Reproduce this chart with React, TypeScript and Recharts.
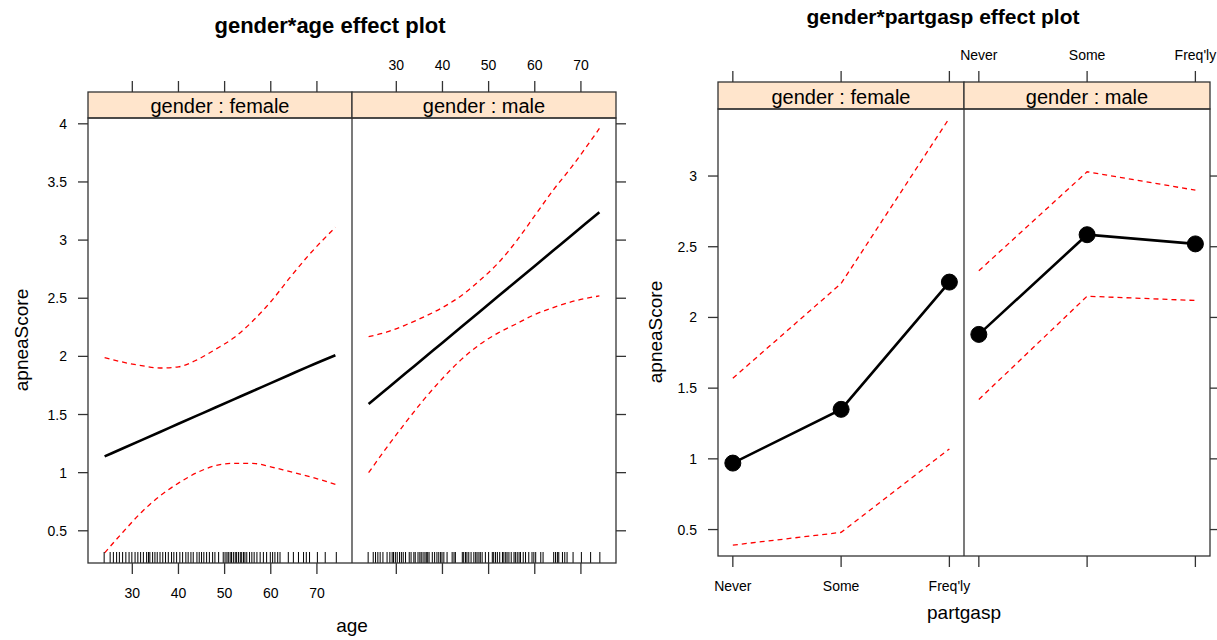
import React from "react";
import { ComposedChart, Line, Scatter, XAxis, YAxis } from "recharts";

// gender*age effect: fitted values and confidence band at these ages
const ageGrid = [24, 28, 32, 36, 40, 44, 48, 52, 56, 60, 64, 68, 74];
const femaleAgeFit = [1.14, 1.21, 1.28, 1.35, 1.42, 1.49, 1.56, 1.63, 1.70, 1.77, 1.84, 1.91, 2.01];
const femaleAgeLower = [0.31, 0.49, 0.66, 0.80, 0.91, 1.00, 1.06, 1.08, 1.08, 1.05, 1.01, 0.97, 0.90];
const femaleAgeUpper = [1.99, 1.95, 1.92, 1.90, 1.91, 1.97, 2.06, 2.16, 2.30, 2.47, 2.67, 2.86, 3.11];
const maleAgeFit = [1.59, 1.722, 1.854, 1.986, 2.118, 2.25, 2.382, 2.514, 2.646, 2.778, 2.91, 3.042, 3.24];
const maleAgeLower = [1.00, 1.22, 1.43, 1.63, 1.81, 1.97, 2.10, 2.20, 2.28, 2.36, 2.42, 2.47, 2.52];
const maleAgeUpper = [2.17, 2.21, 2.27, 2.34, 2.42, 2.52, 2.65, 2.80, 2.99, 3.21, 3.43, 3.63, 3.96];

// rug of observed ages
const femaleRug = [23.9, 25.2, 25.9, 26.6, 27.2, 27.9, 28.6, 29.3, 29.9, 30.6, 31.2, 31.8, 32.4, 33.1, 33.5,
  33.8, 34.4, 34.9, 35.4, 36, 36.6, 37.2, 37.8, 38.5, 39, 39.6, 40.3, 40.9, 41.6, 42.1, 42.7, 43.2, 44, 44.5,
  45, 45.5, 46.1, 46.7, 47.4, 47.9, 48.7, 49.7, 50.1, 50.5, 50.8, 51.2, 51.5, 51.9, 52.3, 52.6, 53, 53.4,
  53.7, 54.1, 54.4, 54.8, 55.4, 55.9, 56.4, 57, 57.7, 58.4, 59.1, 59.9, 60.4, 60.9, 61.5, 62, 63.8, 64.9,
  66, 67.1, 67.7, 68.4, 70.1, 71.8, 74.2];
const maleRug = [23.9, 25, 25.5, 26, 26.5, 27.1, 28, 28.6, 29.1, 29.4, 29.8, 30.2, 30.7, 31.1, 31.5, 32,
  32.8, 33.2, 33.8, 34.1, 34.7, 35.1, 35.4, 35.8, 36.2, 36.5, 36.8, 37.1, 37.8, 38.3, 38.8, 39.2, 39.6, 39.9,
  40.3, 41, 42.1, 42.5, 42.8, 44.3, 44.6, 45, 45.3, 45.7, 46.2, 46.8, 47.2, 47.5, 47.9, 48.2, 48.6, 49.3,
  50, 50.8, 51.1, 51.5, 51.9, 52.4, 53, 53.3, 53.7, 54, 54.4, 54.9, 55.5, 55.8, 56.2, 56.6, 56.9, 57.5, 58,
  58.7, 59.4, 59.8, 60.2, 61.3, 61.8, 64.1, 64.5, 64.9, 65.2, 66, 66.5, 67, 68.3, 70.1, 72.1, 74.1];

// gender*partgasp effect
const partgaspLevels = ["Never", "Some", "Freq'ly"];
const femaleGaspFit = [0.97, 1.35, 2.25];
const femaleGaspLower = [0.39, 0.48, 1.07];
const femaleGaspUpper = [1.57, 2.24, 3.41];
const maleGaspFit = [1.88, 2.585, 2.52];
const maleGaspLower = [1.42, 2.15, 2.12];
const maleGaspUpper = [2.33, 3.03, 2.90];

const ageTicks = [30, 40, 50, 60, 70];
const ageYTicks = [0.5, 1, 1.5, 2, 2.5, 3, 3.5, 4];
const gaspYTicks = [0.5, 1, 1.5, 2, 2.5, 3];

const INK = "#333";
const STRIP = "#ffe5cc";
const PAD = 34; // room outside the plot area so edge labels are not cut

const rowsOf = (xs: number[], fit: number[], lower: number[], upper: number[]) =>
  xs.map((x, i) => ({ x, fit: fit[i], lower: lower[i], upper: upper[i] }));

type PanelProps = {
  left: number; plotTop: number; w: number; h: number; stripTop: number;
  side: "left" | "right";
  topLabels: boolean; bottomLabels: boolean;
  xDomain: [number, number]; yDomain: [number, number];
  xTicks: number[]; yTicks: number[];
  fmtX: (v: number) => string;
  rows: { x: number; fit: number; lower: number; upper: number }[];
  rug?: number[];
  dots?: boolean;
  curve: "monotone" | "linear";
};

function Panel(p: PanelProps) {
  const axisW = p.side === "left" ? 70 : 14;
  const mLeft = p.side === "left" ? 0 : PAD;
  const mRight = p.side === "left" ? PAD : 0;
  const plotX = p.side === "left" ? axisW : PAD; // plot left edge in chart coords
  const topH = 80;
  const bottomH = 45;
  const bottom = topH + p.h;
  const stripH = p.plotTop - p.stripTop;
  const rugData = (p.rug || []).map((a) => ({ x: a, y: p.yDomain[0] }));

  return (
    <div style={{ position: "absolute", left: p.left - plotX, top: p.plotTop - topH }}>
      <ComposedChart width={plotX + p.w + (p.side === "left" ? PAD : axisW)} height={topH + p.h + bottomH} data={p.rows}
        margin={{ top: 0, right: mRight, left: mLeft, bottom: 0 }}>
        <XAxis xAxisId="b" dataKey="x" type="number" domain={p.xDomain} ticks={p.xTicks} interval={0}
          allowDataOverflow height={bottomH} tickLine={false} axisLine={false}
          tick={(t: any) => (
            <g>
              <line x1={t.x} x2={t.x} y1={bottom} y2={bottom + 11} stroke={INK} strokeWidth={1.3} />
              {p.bottomLabels && (
                <text x={t.x} y={bottom + 30} textAnchor="middle" dominantBaseline="central" fontSize={14} fill="#000">
                  {p.fmtX(t.payload.value)}
                </text>
              )}
            </g>
          )} />
        <XAxis xAxisId="t" orientation="top" dataKey="x" type="number" domain={p.xDomain} ticks={p.xTicks} interval={0}
          allowDataOverflow height={topH} tickLine={false} axisLine={false}
          tick={(t: any) => (
            <g>
              <line x1={t.x} x2={t.x} y1={topH - stripH - 11} y2={topH - stripH} stroke={INK} strokeWidth={1.3} />
              {p.topLabels && (
                <text x={t.x} y={topH - stripH - 27} textAnchor="middle" dominantBaseline="central" fontSize={14} fill="#000">
                  {p.fmtX(t.payload.value)}
                </text>
              )}
            </g>
          )} />
        <YAxis orientation={p.side} dataKey="y" type="number" domain={p.yDomain} ticks={p.yTicks} interval={0}
          allowDataOverflow width={axisW} tickLine={false} axisLine={false}
          tick={(t: any) =>
            p.side === "left" ? (
              <g>
                <line x1={plotX - 10} x2={plotX} y1={t.y} y2={t.y} stroke={INK} strokeWidth={1.3} />
                <text x={plotX - 21} y={t.y} textAnchor="end" dominantBaseline="central" fontSize={14} fill="#000">
                  {t.payload.value}
                </text>
              </g>
            ) : (
              <line x1={plotX + p.w} x2={plotX + p.w + 10} y1={t.y} y2={t.y} stroke={INK} strokeWidth={1.3} />
            )
          } />
        <Line xAxisId="b" type={p.curve} dataKey="upper" stroke="#ff0000" strokeWidth={1.3}
          strokeDasharray="5 4" dot={false} isAnimationActive={false} />
        <Line xAxisId="b" type={p.curve} dataKey="lower" stroke="#ff0000" strokeWidth={1.3}
          strokeDasharray="5 4" dot={false} isAnimationActive={false} />
        <Line xAxisId="b" type={p.curve} dataKey="fit" stroke="#000" strokeWidth={2.6}
          dot={p.dots ? { r: 8, fill: "#000", stroke: "#000", strokeWidth: 1 } : false} isAnimationActive={false} />
        {p.rug && (
          <Scatter xAxisId="b" data={rugData} dataKey="y" isAnimationActive={false}
            shape={(s: any) => <line x1={s.cx} x2={s.cx} y1={s.cy - 11} y2={s.cy} stroke="#000" strokeWidth={1} />} />
        )}
      </ComposedChart>
    </div>
  );
}

function Frame(f: { x: number; top: number; w: number; h: number; stripTop: number; labels: string[] }) {
  return (
    <g>
      {[0, 1].map((i) => (
        <g key={i}>
          <rect x={f.x + i * f.w} y={f.stripTop} width={f.w} height={f.top - f.stripTop} fill={STRIP} stroke={INK} strokeWidth={1.3} />
          <text x={f.x + i * f.w + f.w / 2} y={(f.stripTop + f.top) / 2 + 1} textAnchor="middle" dominantBaseline="central" fontSize={20} fill="#000">
            {f.labels[i]}
          </text>
        </g>
      ))}
      <rect x={f.x} y={f.top} width={f.w * 2} height={f.h} fill="none" stroke={INK} strokeWidth={1.3} />
      <line x1={f.x + f.w} x2={f.x + f.w} y1={f.top} y2={f.top + f.h} stroke={INK} strokeWidth={1.3} />
    </g>
  );
}

export default function App() {
  const A = { fx: 88, w: 264, top: 118, h: 445, stripTop: 92 };
  const G = { fx: 718, w: 246, top: 109, h: 447, stripTop: 82 };
  const ageDomain: [number, number] = [20.4, 77.6];
  const ageY: [number, number] = [0.223, 4.05];
  const gaspDomain: [number, number] = [-0.137, 2.135];
  const gaspY: [number, number] = [0.313, 3.474];
  const idx = partgaspLevels.map((_, i) => i);
  const fmtGasp = (v: number) => partgaspLevels[v];
  const fmtAge = (v: number) => String(v);

  return (
    <div style={{ position: "absolute", left: 0, top: 0, width: 1217, height: 640, background: "#fff",
      fontFamily: "'Liberation Sans', Arial, sans-serif", overflow: "hidden" }}>
      <Panel left={A.fx} plotTop={A.top} w={A.w} h={A.h} stripTop={A.stripTop} side="left"
        topLabels={false} bottomLabels xDomain={ageDomain} yDomain={ageY} xTicks={ageTicks} yTicks={ageYTicks}
        fmtX={fmtAge} rows={rowsOf(ageGrid, femaleAgeFit, femaleAgeLower, femaleAgeUpper)} rug={femaleRug} curve="monotone" />
      <Panel left={A.fx + A.w} plotTop={A.top} w={A.w} h={A.h} stripTop={A.stripTop} side="right"
        topLabels bottomLabels={false} xDomain={ageDomain} yDomain={ageY} xTicks={ageTicks} yTicks={ageYTicks}
        fmtX={fmtAge} rows={rowsOf(ageGrid, maleAgeFit, maleAgeLower, maleAgeUpper)} rug={maleRug} curve="monotone" />
      <Panel left={G.fx} plotTop={G.top} w={G.w} h={G.h} stripTop={G.stripTop} side="left"
        topLabels={false} bottomLabels xDomain={gaspDomain} yDomain={gaspY} xTicks={idx} yTicks={gaspYTicks}
        fmtX={fmtGasp} rows={rowsOf(idx, femaleGaspFit, femaleGaspLower, femaleGaspUpper)} dots curve="linear" />
      <Panel left={G.fx + G.w} plotTop={G.top} w={G.w} h={G.h} stripTop={G.stripTop} side="right"
        topLabels bottomLabels={false} xDomain={gaspDomain} yDomain={gaspY} xTicks={idx} yTicks={gaspYTicks}
        fmtX={fmtGasp} rows={rowsOf(idx, maleGaspFit, maleGaspLower, maleGaspUpper)} dots curve="linear" />

      <svg width={1217} height={640} style={{ position: "absolute", left: 0, top: 0, pointerEvents: "none" }}>
        <Frame x={A.fx} top={A.top} w={A.w} h={A.h} stripTop={A.stripTop} labels={["gender : female", "gender : male"]} />
        <Frame x={G.fx} top={G.top} w={G.w} h={G.h} stripTop={G.stripTop} labels={["gender : female", "gender : male"]} />

        <text x={330} y={25} textAnchor="middle" dominantBaseline="central" fontSize={22} fontWeight="bold" fill="#000">
          gender*age effect plot
        </text>
        <text x={943} y={16} textAnchor="middle" dominantBaseline="central" fontSize={21} fontWeight="bold" fill="#000">
          gender*partgasp effect plot
        </text>

        <text x={352} y={625} textAnchor="middle" dominantBaseline="central" fontSize={19} fill="#000">age</text>
        <text x={964} y={612} textAnchor="middle" dominantBaseline="central" fontSize={19} fill="#000">partgasp</text>
        <text transform="translate(21,340) rotate(-90)" textAnchor="middle" dominantBaseline="central" fontSize={19} fill="#000">
          apneaScore
        </text>
        <text transform="translate(655,332) rotate(-90)" textAnchor="middle" dominantBaseline="central" fontSize={19} fill="#000">
          apneaScore
        </text>
      </svg>
    </div>
  );
}
